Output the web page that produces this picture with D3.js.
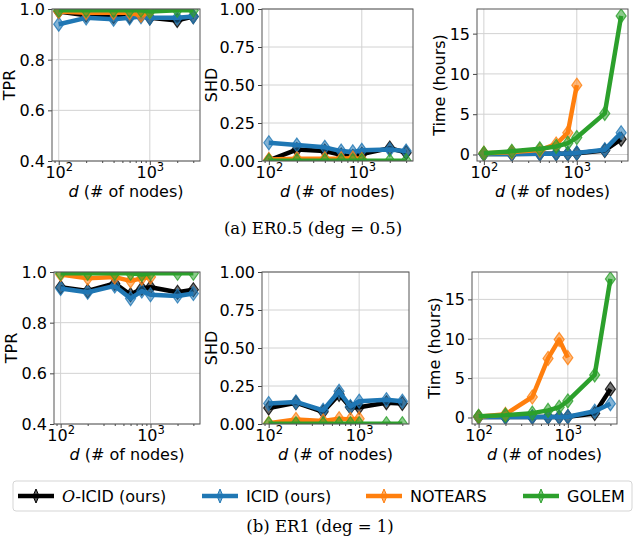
<!DOCTYPE html>
<html>
<head>
<meta charset="utf-8">
<script src="https://cdn.jsdelivr.net/npm/d3@7"></script>
<style>
  body { margin: 0; background: #fff; }
  text { font-family: "DejaVu Sans", sans-serif; fill: #000; }
  .caption { font-family: "DejaVu Serif", "Liberation Serif", serif; }
</style>
</head>
<body>
<div id="chart"></div>
<script>
// x values (number of nodes)
const nodes = [100, 200, 400, 600, 800, 1000, 2000, 3000];
const nodesNotears = [100, 200, 400, 600, 800, 1000];

const methods = ['O-ICID (ours)', 'ICID (ours)', 'NOTEARS', 'GOLEM'];
const colors = ['#000000', '#1f77b4', '#ff7f0e', '#2ca02c'];

// (a) ER0.5
const tprA_ocicid = [0.99, 0.975, 0.97, 0.97, 0.975, 0.965, 0.955, 0.97];
const tprA_icid = [0.94, 0.965, 0.96, 0.965, 0.97, 0.965, 0.965, 0.97];
const tprA_notears = [0.99, 0.985, 0.985, 0.985, 0.975, 0.99];
const tprA_golem = [0.995, 0.995, 0.995, 0.995, 0.995, 0.99, 0.995, 0.995];

const shdA_ocicid = [0.005, 0.075, 0.065, 0.04, 0.03, 0.045, 0.085, 0.055];
const shdA_icid = [0.12, 0.105, 0.09, 0.065, 0.06, 0.07, 0.075, 0.065];
const shdA_notears = [0.01, 0.015, 0.015, 0.015, 0.02, 0.01];
const shdA_golem = [0.002, 0.002, 0.002, 0.002, 0.002, 0.002, 0.002, 0.002];

const timeA_ocicid = [0.05, 0.06, 0.08, 0.1, 0.1, 0.15, 0.5, 1.9];
const timeA_icid = [0.05, 0.06, 0.08, 0.1, 0.12, 0.2, 0.6, 2.7];
const timeA_notears = [0.15, 0.3, 0.55, 1.3, 2.7, 8.6];
const timeA_golem = [0.16, 0.4, 0.7, 1.0, 1.4, 2.1, 5.1, 17.2];

// (b) ER1
const tprB_ocicid = [0.94, 0.925, 0.955, 0.91, 0.935, 0.94, 0.92, 0.93];
const tprB_icid = [0.935, 0.92, 0.945, 0.895, 0.925, 0.91, 0.905, 0.915];
const tprB_notears = [0.99, 0.975, 0.98, 0.965, 0.975, 0.98];
const tprB_golem = [0.995, 0.995, 0.995, 0.995, 0.99, 0.995, 0.995, 0.995];

const shdB_ocicid = [0.105, 0.14, 0.08, 0.195, 0.11, 0.11, 0.14, 0.135];
const shdB_icid = [0.135, 0.145, 0.09, 0.215, 0.115, 0.15, 0.16, 0.15];
const shdB_notears = [0.005, 0.03, 0.02, 0.035, 0.03, 0.035];
const shdB_golem = [0.002, 0.002, 0.002, 0.002, 0.002, 0.002, 0.002, 0.002];

const timeB_ocicid = [0.05, 0.05, 0.05, 0.05, 0.05, 0.1, 0.5, 3.6];
const timeB_icid = [0.05, 0.05, 0.05, 0.05, 0.05, 0.1, 0.8, 1.75];
const timeB_notears = [0.1, 0.4, 2.6, 7.5, 9.9, 7.6];
const timeB_golem = [0.15, 0.3, 0.55, 0.9, 1.3, 2.1, 5.4, 17.6];

const tprTicks = [0.4, 0.6, 0.8, 1.0];
const shdTicks = [0, 0.25, 0.5, 0.75, 1.0];
const timeTicks = [0, 5, 10, 15];
const xMajor = [100, 1000];
const xMinor = [90, 200, 300, 400, 500, 600, 700, 800, 900, 2000, 3000];

const captions = ['(a) ER0.5 (deg = 0.5)', '(b) ER1 (deg = 1)'];

const W = 640, H = 547;
const svg = d3.select('#chart').append('svg')
    .attr('width', W)
    .attr('height', H);

// log-space padding like matplotlib autoscale
const lx = [Math.log10(d3.min(nodes)), Math.log10(d3.max(nodes))];
const lpad = (lx[1] - lx[0]) * 0.05;
const xDomain = [Math.pow(10, lx[0] - lpad), Math.pow(10, lx[1] + lpad)];

function padded(arrs) {
    const all = arrs.flat();
    const lo = d3.min(all), hi = d3.max(all);
    const p = (hi - lo) * 0.05;
    return [lo - p, hi + p];
}

let clipId = 0;
function panel(box, yDomain, yTicks, yFmt, ylabel, labelOff, series) {
    const g = svg.append('g');
    const x = d3.scaleLog().domain(xDomain).range([box.x0, box.x1]);
    const y = d3.scaleLinear().domain(yDomain).range([box.y1, box.y0]);

    // grid
    g.append('g').selectAll('line.gx').data(xMajor).enter().append('line')
        .attr('x1', d => x(d)).attr('x2', d => x(d))
        .attr('y1', box.y0).attr('y2', box.y1)
        .attr('stroke', '#d2d2d2').attr('stroke-width', 1);
    g.append('g').selectAll('line.gy').data(yTicks).enter().append('line')
        .attr('x1', box.x0).attr('x2', box.x1)
        .attr('y1', d => y(d)).attr('y2', d => y(d))
        .attr('stroke', '#d2d2d2').attr('stroke-width', 1);

    // data
    const id = 'clip' + (clipId++);
    g.append('clipPath').attr('id', id).append('rect')
        .attr('x', box.x0).attr('y', box.y0)
        .attr('width', box.x1 - box.x0).attr('height', box.y1 - box.y0);
    const gd = g.append('g').attr('clip-path', `url(#${id})`);
    const line = d3.line().x(d => x(d[0])).y(d => y(d[1]));
    series.forEach((s, i) => {
        const xs = s.length === nodes.length ? nodes : nodesNotears;
        const pts = s.map((v, j) => [xs[j], v]);
        gd.append('path')
            .attr('d', line(pts))
            .attr('fill', 'none')
            .attr('stroke', colors[i])
            .attr('stroke-width', 4.5)
            .attr('stroke-linejoin', 'round');
        gd.selectAll(null).data(pts).enter().append('path')
            .attr('d', 'M0,-7L5,0L0,7L-5,0Z')
            .attr('transform', d => `translate(${x(d[0])},${y(d[1])})`)
            .attr('fill', colors[i])
            .attr('fill-opacity', 0.55)
            .attr('stroke', colors[i])
            .attr('stroke-opacity', 0.8)
            .attr('stroke-width', 1.2);
    });

    // axes
    const xa = g.append('g')
        .attr('transform', `translate(0,${box.y1})`)
        .call(d3.axisBottom(x).tickValues(xMajor).tickSize(4).tickPadding(3).tickFormat(''));
    xa.selectAll('.tick text').remove();
    xa.selectAll('.tick').append('text')
        .attr('y', 17)
        .attr('text-anchor', 'middle')
        .style('font-size', '16px')
        .each(function (d) {
            const t = d3.select(this);
            t.append('tspan').text('10');
            t.append('tspan').attr('dy', -7).style('font-size', '11.5px').text(Math.round(Math.log10(d)));
        });
    g.append('g')
        .attr('transform', `translate(0,${box.y1})`)
        .call(d3.axisBottom(x).tickValues(xMinor.filter(v => v > xDomain[0] && v < xDomain[1])).tickSize(2).tickFormat(''));

    g.append('g')
        .attr('transform', `translate(${box.x0},0)`)
        .call(d3.axisLeft(y).tickValues(yTicks).tickSize(4).tickPadding(3).tickFormat(yFmt))
        .selectAll('text').style('font-size', '16px').attr('dy', '0.34em');

    g.selectAll('.domain').remove();
    g.selectAll('.tick line').attr('stroke', '#444');

    g.append('rect')
        .attr('x', box.x0).attr('y', box.y0)
        .attr('width', box.x1 - box.x0).attr('height', box.y1 - box.y0)
        .attr('fill', 'none').attr('stroke', '#555').attr('stroke-width', 1);

    // labels
    const xl = g.append('text')
        .attr('x', (box.x0 + box.x1) / 2)
        .attr('y', box.y1 + 36)
        .attr('text-anchor', 'middle')
        .style('font-size', '16px');
    xl.append('tspan').style('font-style', 'italic').text('d');
    xl.append('tspan').text(' (# of nodes)');

    g.append('text')
        .attr('transform', `translate(${box.x0 - labelOff},${(box.y0 + box.y1) / 2}) rotate(-90)`)
        .attr('text-anchor', 'middle')
        .style('font-size', '16px')
        .text(ylabel);
}

const fmt1 = d3.format('.1f');
const fmt2 = d3.format('.2f');
const fmt0 = d3.format('d');

// top row: (a) ER0.5
const rowA = { y0: 9, y1: 161 };
panel({ x0: 52, x1: 200, ...rowA }, [0.4, 1.0], tprTicks, fmt1, 'TPR', 37,
    [tprA_ocicid, tprA_icid, tprA_notears, tprA_golem]);
panel({ x0: 262, x1: 413, ...rowA }, [0, 1.0], shdTicks, fmt2, 'SHD', 45,
    [shdA_ocicid, shdA_icid, shdA_notears, shdA_golem]);
const timeA = [timeA_ocicid, timeA_icid, timeA_notears, timeA_golem];
panel({ x0: 477, x1: 628, ...rowA }, padded(timeA), timeTicks, fmt0, 'Time (hours)', 32, timeA);

// bottom row: (b) ER1
const rowB = { y0: 272, y1: 424 };
panel({ x0: 54, x1: 200, ...rowB }, [0.4, 1.0], tprTicks, fmt1, 'TPR', 37,
    [tprB_ocicid, tprB_icid, tprB_notears, tprB_golem]);
panel({ x0: 262, x1: 409, ...rowB }, [0, 1.0], shdTicks, fmt2, 'SHD', 45,
    [shdB_ocicid, shdB_icid, shdB_notears, shdB_golem]);
const timeB = [timeB_ocicid, timeB_icid, timeB_notears, timeB_golem];
panel({ x0: 472, x1: 617, ...rowB }, padded(timeB), timeTicks, fmt0, 'Time (hours)', 32, timeB);

// captions
svg.append('text').classed('caption', true)
    .attr('x', 313).attr('y', 234)
    .attr('text-anchor', 'middle')
    .style('font-size', '16.5px')
    .text(captions[0]);
svg.append('text').classed('caption', true)
    .attr('x', 320).attr('y', 532)
    .attr('text-anchor', 'middle')
    .style('font-size', '16.5px')
    .text(captions[1]);

// legend
const legend = svg.append('g');
legend.append('rect')
    .attr('x', 13).attr('y', 481)
    .attr('width', 619).attr('height', 30)
    .attr('rx', 3)
    .attr('fill', '#fff').attr('stroke', '#d5d5d5');
const legX = [18, 202, 366, 523];
methods.forEach((m, i) => {
    const lg = legend.append('g').attr('transform', `translate(${legX[i]},496)`);
    lg.append('line').attr('x1', 0).attr('x2', 36)
        .attr('stroke', colors[i]).attr('stroke-width', 4.5);
    lg.append('path').attr('d', 'M0,-7L3,0L0,7L-3,0Z')
        .attr('transform', 'translate(18,0)')
        .attr('fill', colors[i]).attr('fill-opacity', 0.6)
        .attr('stroke', colors[i]).attr('stroke-width', 1);
    const t = lg.append('text').attr('x', 44).attr('y', 6).style('font-size', '16px');
    if (i === 0) {
        t.append('tspan').style('font-family', '"DejaVu Serif", serif').style('font-style', 'italic').text('O');
        t.append('tspan').text('-ICID (ours)');
    } else {
        t.text(m);
    }
});
</script>
</body>
</html>
